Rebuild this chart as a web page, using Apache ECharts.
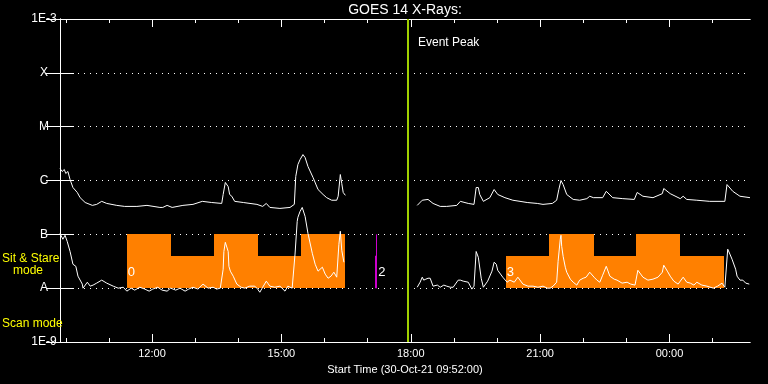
<!DOCTYPE html>
<html><head><meta charset="utf-8">
<script src="https://cdn.jsdelivr.net/npm/echarts@6/dist/echarts.min.js"></script>
<style>html,body{margin:0;padding:0;background:#000}#c{width:768px;height:384px}</style>
</head><body><div id="c"></div>
<script>
// Time axis: minutes elapsed since start time 30-Oct-21 09:52:00
const startClockMin = 9 * 60 + 52;
const axisMaxMin = 960;
const majorTickMin = [128, 308, 488, 668, 848];               // 12:00 15:00 18:00 21:00 00:00
const minorTickMin = [8, 68, 128, 188, 248, 308, 368, 428, 488, 548, 608, 668, 728, 788, 848, 908];
const yClassLabels = { '-3': '1E-3', '-4': 'X', '-5': 'M', '-6': 'C', '-7': 'B', '-8': 'A', '-9': '1E-9' };

// GOES 14 long channel (1-8 A) [minutes, W/m^2]; null = data gap
const longChannel = [
  [0,1.67e-6],[3,1.47e-6],[6,1.6e-6],[8,1.35e-6],[11,1.47e-6],[14,1.04e-6],[18,7.4e-7],[24,6.0e-7],
  [28,4.8e-7],[35,3.9e-7],[45,3.45e-7],[51,3.6e-7],[58,4.1e-7],[65,3.75e-7],[79,3.45e-7],[90,3.3e-7],
  [107,3.3e-7],[121,3.45e-7],[139,3.16e-7],[143,3.16e-7],[149,3.45e-7],[156,3.16e-7],[171,3.45e-7],
  [185,3.6e-7],[198,4.1e-7],[211,3.9e-7],[225,3.75e-7],[227,5.5e-7],[230,9.2e-7],[232,1.0e-6],
  [234,7.7e-7],[236,5.5e-7],[239,5.1e-7],[243,4.1e-7],[255,3.9e-7],[274,3.6e-7],[282,3.3e-7],
  [287,3.75e-7],[292,3.16e-7],[306,3.03e-7],[320,3.16e-7],[326,3.6e-7],[328,1.19e-6],[331,1.98e-6],
  [334,2.45e-6],[338,3.03e-6],[341,2.67e-6],[345,1.82e-6],[352,1.14e-6],[359,6.8e-7],[366,5.5e-7],
  [371,4.8e-7],[378,4.3e-7],[385,4.3e-7],[387,5.1e-7],[390,1.29e-6],[392,8.8e-7],[394,6.0e-7],[397,5.3e-7],
  [450,null],
  [497,3.45e-7],[504,4.3e-7],[512,4.45e-7],[519,3.75e-7],[529,3.3e-7],[538,3.3e-7],[552,3.45e-7],
  [557,4.1e-7],[568,3.75e-7],[576,3.6e-7],[579,7.4e-7],[582,7.4e-7],[584,5.5e-7],[589,4.1e-7],
  [598,4.8e-7],[604,6.8e-7],[609,5.5e-7],[619,4.8e-7],[630,4.3e-7],[640,4.1e-7],[650,3.9e-7],
  [664,3.75e-7],[672,3.6e-7],[685,3.75e-7],[691,4.3e-7],[694,6.8e-7],[697,1.0e-6],[700,8.4e-7],
  [705,5.5e-7],[714,4.45e-7],[723,4.3e-7],[733,4.6e-7],[737,5.1e-7],[742,4.8e-7],[755,4.8e-7],
  [760,6.3e-7],[769,4.8e-7],[783,4.6e-7],[799,4.45e-7],[803,6.0e-7],[811,5.1e-7],[825,4.8e-7],
  [838,5.7e-7],[840,7.1e-7],[849,5.7e-7],[863,4.6e-7],[867,5.1e-7],[872,4.45e-7],[886,4.3e-7],
  [904,4.1e-7],[925,4.1e-7],[928,8.4e-7],[936,6.3e-7],[946,5.1e-7],[960,4.8e-7]
];

// GOES 14 short channel (0.5-4 A) [minutes, W/m^2]
const shortChannel = [
  [0,1.04e-7],[4,8.1e-8],[7,9.6e-8],[10,7.4e-8],[14,4.8e-8],[18,2.78e-8],[22,2.55e-8],[25,1.67e-8],
  [31,1.19e-8],[32,1.0e-8],[38,1.29e-8],[42,1.09e-8],[46,1.14e-8],[51,1.24e-8],[58,1.41e-8],[65,1.24e-8],
  [74,1.09e-8],[81,1.0e-8],[88,1.04e-8],[93,8.8e-9],[99,1.0e-8],[104,9.2e-9],[111,1.04e-8],[118,9.6e-9],
  [124,8.8e-9],[129,9.6e-9],[136,1.04e-8],[142,9.2e-9],[149,8.8e-9],[154,1.0e-8],[161,9.2e-9],[167,1.0e-8],
  [174,8.8e-9],[179,9.6e-9],[185,1.04e-8],[192,9.6e-9],[199,1.19e-8],[206,1.0e-8],[213,1.04e-8],[218,9.6e-9],
  [223,1.0e-8],[227,2.25e-8],[228,4.8e-8],[230,7.1e-8],[232,6.8e-8],[234,4.8e-8],[235,2.55e-8],[237,2.07e-8],
  [239,2.25e-8],[241,1.67e-8],[246,1.19e-8],[252,1.04e-8],[257,1.0e-8],[264,1.09e-8],[271,1.09e-8],
  [275,9.6e-9],[278,8.4e-9],[282,1.04e-8],[287,1.35e-8],[292,1.09e-8],[299,1.04e-8],[306,1.09e-8],
  [313,8.8e-9],[317,1.09e-8],[323,1.0e-8],[327,4.3e-8],[330,1.74e-7],[331,2.07e-7],[334,2.67e-7],
  [337,3.16e-7],[341,2.15e-7],[345,1.04e-7],[351,4.45e-8],[355,2.78e-8],[359,2.07e-8],[365,2.45e-8],
  [369,1.82e-8],[373,1.53e-8],[377,1.67e-8],[381,1.98e-8],[385,1.6e-8],[388,6.5e-8],[390,1.14e-7],
  [392,5.06e-8],[395,3.03e-8],
  [450,null],
  [497,1.04e-8],[501,1.29e-8],[504,1.6e-8],[506,1.41e-8],[509,1.47e-8],[512,1.53e-8],[515,1.53e-8],
  [519,1.09e-8],[525,1.14e-8],[529,1.04e-8],[534,1.14e-8],[538,1.09e-8],[543,1.04e-8],[547,1.04e-8],
  [554,1.41e-8],[557,1.41e-8],[561,1.35e-8],[568,1.29e-8],[573,9.6e-9],[576,1.09e-8],[579,4.8e-8],
  [582,3.75e-8],[586,1.53e-8],[589,1.04e-8],[595,1.35e-8],[601,2.07e-8],[604,3.03e-8],[607,2.78e-8],
  [609,2.15e-8],[616,1.6e-8],[622,1.29e-8],[626,1.41e-8],[632,1.29e-8],[637,1.6e-8],[644,1.19e-8],
  [651,1.09e-8],[658,1.09e-8],[665,1.04e-8],[672,1.09e-8],[678,1.0e-8],[682,1.0e-8],[686,1.09e-8],
  [691,1.29e-8],[693,3.16e-8],[696,8.1e-8],[697,9.6e-8],[698,6.0e-8],[700,3.9e-8],[703,2.45e-8],
  [705,1.98e-8],[710,1.47e-8],[714,1.29e-8],[719,1.14e-8],[723,1.41e-8],[728,1.53e-8],[732,1.6e-8],
  [737,1.98e-8],[743,1.6e-8],[747,1.41e-8],[751,1.29e-8],[755,1.74e-8],[760,2.55e-8],[765,1.67e-8],
  [771,1.47e-8],[775,1.41e-8],[782,1.24e-8],[789,1.29e-8],[794,1.19e-8],[800,1.14e-8],[804,2.15e-8],
  [811,1.6e-8],[818,1.41e-8],[825,1.47e-8],[832,1.6e-8],[838,1.98e-8],[840,2.67e-8],[845,2.07e-8],
  [849,1.67e-8],[854,1.35e-8],[860,1.19e-8],[867,1.6e-8],[872,1.29e-8],[877,1.24e-8],[882,1.14e-8],
  [886,1.29e-8],[893,1.14e-8],[900,1.09e-8],[909,1.0e-8],[915,1.09e-8],[921,1.24e-8],[925,1.04e-8],
  [929,5.3e-8],[932,4.3e-8],[935,3.45e-8],[940,2.25e-8],[942,1.67e-8],[946,1.41e-8],[950,1.41e-8],
  [954,1.24e-8],[959,1.19e-8]
];

// Observing modes: segment edges (minutes) and level of each segment
const modeIds = ['0', '3'];
const modeEdges = [[93, 154, 214, 275, 335, 396], [620, 680, 743, 801, 863, 924]];
const modeLevels = [[1e-7, 4e-8, 1e-7, 4e-8, 1e-7], [4e-8, 1e-7, 4e-8, 1e-7, 4e-8]];
const modeBase = 1e-8;
const scanMarkId = '2';
const scanMarkMin = 440;
const scanMarkLevels = [1e-7, 4e-8];
const eventPeakMin = 484;

const FONT = 'Liberation Sans';
function clock(m) {
  const t = startClockMin + Math.round(m);
  const h = Math.floor(t / 60) % 24, mm = t % 60;
  return String(h).padStart(2, '0') + ':' + String(mm).padStart(2, '0');
}

// one polygon per observing block (step outline), built from edges/levels
const blockData = modeEdges.map((edges, b) => [b]);
const blockLabelData = modeEdges.map((edges, b) => [edges[0], b]);

function toLine(arr) { return arr.map(p => [p[0], p[1] === null ? '-' : p[1]]); }

function xAxisDef(pos, extra) {
  return Object.assign({
    type: 'value', position: pos, min: 0, max: axisMaxMin,
    axisLine: { show: true, onZero: false, lineStyle: { color: '#fff', width: 1 } },
    splitLine: { show: false }, axisLabel: { show: false }, axisTick: { show: false }
  }, extra);
}
const majTick = { show: true, inside: true, length: 8, customValues: majorTickMin, lineStyle: { color: '#fff', width: 1 } };
const minTick = { show: true, inside: true, length: 4, customValues: minorTickMin, lineStyle: { color: '#fff', width: 1 } };

const chart = echarts.init(document.getElementById('c'), null, { renderer: 'canvas' });
chart.setOption({
  backgroundColor: '#000',
  animation: false,
  grid: { left: 60, right: 18, top: 19, bottom: 42, containLabel: false },
  xAxis: [
    xAxisDef('bottom', {
      axisTick: majTick,
      axisLabel: { show: true, customValues: majorTickMin, formatter: v => clock(v), color: '#fff', fontSize: 11, fontFamily: FONT, margin: 6 },
      name: 'Start Time (30-Oct-21 ' + clock(0) + ':00)', nameLocation: 'middle', nameGap: 22,
      nameTextStyle: { color: '#fff', fontSize: 11, fontFamily: FONT }
    }),
    xAxisDef('bottom', { axisTick: minTick }),
    xAxisDef('top', { axisTick: majTick }),
    xAxisDef('top', { axisTick: minTick })
  ],
  yAxis: [
    {
      type: 'log', logBase: 10, min: 1e-9, max: 1e-3, position: 'left',
      axisLine: { show: true, lineStyle: { color: '#fff', width: 1 } },
      axisTick: { show: true, inside: true, length: 14, lineStyle: { color: '#fff', width: 1 } },
      axisLabel: { color: '#fff', fontSize: 12, fontFamily: FONT, align: 'center', margin: 16,
        formatter: v => yClassLabels[String(Math.round(Math.log10(v)))] || '' },
      splitLine: { show: true, lineStyle: { color: '#fff', width: 1, type: [1, 5] } }
    },
    {
      type: 'log', logBase: 10, min: 1e-9, max: 1e-3, position: 'right',
      axisLine: { show: true, lineStyle: { color: '#fff', width: 1 } },
      axisTick: { show: true, inside: true, length: 14, lineStyle: { color: '#fff', width: 1 } },
      axisLabel: { show: false }, splitLine: { show: false }
    }
  ],
  graphic: [
    { type: 'text', x: 405, y: 10, style: { text: 'GOES 14 X-Rays:', fill: '#fff', font: '14px "Liberation Sans"', textAlign: 'center', textVerticalAlign: 'middle' } },
    { type: 'text', x: 418, y: 43, z: 100, style: { text: 'Event Peak', fill: '#fff', font: '12px "Liberation Sans"', textAlign: 'left', textVerticalAlign: 'middle' } },
    { type: 'text', x: 2, y: 259, z: 100, style: { text: 'Sit & Stare', fill: '#ffff00', font: '12px "Liberation Sans"', textAlign: 'left', textVerticalAlign: 'middle' } },
    { type: 'text', x: 13, y: 271, z: 100, style: { text: 'mode', fill: '#ffff00', font: '12px "Liberation Sans"', textAlign: 'left', textVerticalAlign: 'middle' } },
    { type: 'text', x: 2, y: 324, z: 100, style: { text: 'Scan mode', fill: '#ffff00', font: '12px "Liberation Sans"', textAlign: 'left', textVerticalAlign: 'middle' } }
  ],
  series: [
    {
      type: 'custom', name: 'modes', xAxisIndex: 0, yAxisIndex: 0, z: 2, silent: true,
      data: blockData,
      renderItem: (params, api) => {
        const b = api.value(0);
        const edges = modeEdges[b], levels = modeLevels[b];
        const pts = [];
        const base0 = api.coord([edges[0], modeBase]);
        pts.push([Math.round(base0[0]), Math.round(base0[1])]);
        for (let i = 0; i < levels.length; i++) {
          const a = api.coord([edges[i], levels[i]]);
          const c = api.coord([edges[i + 1], levels[i]]);
          pts.push([Math.round(a[0]), Math.round(a[1])]);
          pts.push([Math.round(c[0]), Math.round(c[1])]);
        }
        const baseN = api.coord([edges[edges.length - 1], modeBase]);
        pts.push([Math.round(baseN[0]), Math.round(baseN[1])]);
        return { type: 'polygon', shape: { points: pts }, style: { fill: '#ff8000' } };
      }
    },
    {
      type: 'custom', name: 'scanMark', xAxisIndex: 0, yAxisIndex: 0, z: 3, silent: true,
      data: scanMarkLevels.map(l => [scanMarkMin, l]),
      renderItem: (params, api) => {
        const p0 = api.coord([api.value(0), api.value(1)]);
        const p1 = api.coord([api.value(0), modeBase]);
        const w = params.dataIndex === 0 ? 1 : 2;
        const x = params.dataIndex === 0 ? Math.round(p0[0]) + 0.5 : Math.round(p0[0]);
        return { type: 'line', shape: { x1: x, y1: p0[1], x2: x, y2: p1[1] }, style: { stroke: '#cc00cc', lineWidth: w } };
      }
    },
    {
      type: 'custom', name: 'modeLabels', xAxisIndex: 0, yAxisIndex: 0, z: 6, silent: true,
      data: blockLabelData.concat([[scanMarkMin, -1]]),
      renderItem: (params, api) => {
        const idx = api.value(1);
        const p = api.coord([api.value(0), 2.0e-8]);
        const txt = idx < 0 ? scanMarkId : modeIds[idx];
        return { type: 'text', x: p[0] + (idx < 0 ? 2 : 1), y: p[1], style: { text: txt, fill: '#fff', font: '13px "Liberation Sans"', textAlign: 'left', textVerticalAlign: 'middle' } };
      }
    },
    {
      type: 'line', name: 'long', xAxisIndex: 0, yAxisIndex: 0, z: 5, data: toLine(longChannel),
      showSymbol: false, connectNulls: false, lineStyle: { color: '#fff', width: 1 }, silent: true,
      markLine: {
        silent: true, symbol: 'none', label: { show: false },
        lineStyle: { color: '#a0d000', width: 2, type: 'solid' },
        data: [{ xAxis: eventPeakMin }]
      }
    },
    {
      type: 'line', name: 'short', xAxisIndex: 0, yAxisIndex: 0, z: 5, data: toLine(shortChannel),
      showSymbol: false, connectNulls: false, lineStyle: { color: '#fff', width: 1 }, silent: true
    }
  ]
});
</script></body></html>
